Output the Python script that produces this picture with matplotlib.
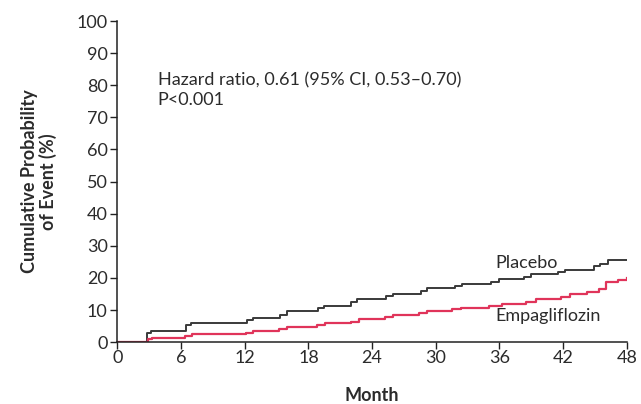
import matplotlib
matplotlib.use("Agg")
import matplotlib.pyplot as plt

# Kaplan-Meier style cumulative incidence (%), step function by month
placebo_months = [0, 2.8, 3.2, 6.5, 6.9, 12.2, 12.8, 15.3, 16.0, 18.9, 19.5, 22.0, 22.6,
                  25.3, 26.0, 28.6, 29.2, 31.8, 32.5, 35.2, 36.0, 38.3, 39.0, 41.5, 42.2,
                  44.9, 45.5, 46.2, 48]
placebo_pct = [0, 3.0, 3.4, 5.4, 6.0, 7.0, 7.6, 8.6, 9.6, 10.6, 11.4, 12.6, 13.4,
               14.4, 15.0, 16.0, 16.8, 17.4, 18.0, 18.8, 19.6, 20.4, 21.2, 22.0, 22.6,
               23.6, 24.4, 25.5, 25.5]

empa_months = [0, 2.9, 3.3, 6.4, 7.0, 12.1, 12.8, 15.2, 16.0, 18.8, 19.6, 22.0, 22.8,
               25.2, 26.0, 28.4, 29.2, 31.5, 32.4, 35.0, 36.2, 38.5, 39.4, 41.8, 42.6,
               44.2, 45.4, 46.0, 47.2, 48]
empa_pct = [0, 0.9, 1.3, 1.8, 2.5, 2.9, 3.5, 4.0, 4.8, 5.3, 6.0, 6.4, 7.2,
            7.7, 8.5, 9.0, 9.7, 10.2, 10.8, 11.3, 12.0, 12.6, 13.6, 14.2, 15.0,
            15.6, 16.6, 18.6, 19.5, 20.0]

x_ticks = [0, 6, 12, 18, 24, 30, 36, 42, 48]
y_ticks = [0, 10, 20, 30, 40, 50, 60, 70, 80, 90, 100]

FONT = ["Lato", "DejaVu Sans"]
TXT = "#2b2b2b"
FS = 13

fig = plt.figure(figsize=(6.41, 4.04), dpi=100)
ax = fig.add_axes([0.183, 0.153, 0.795, 0.795])

ax.step(placebo_months, placebo_pct, where="post", color="#3a3a3a", lw=1.4)
ax.step(empa_months, empa_pct, where="post", color="#e0345a", lw=1.6)

ax.set_xlim(0, 48)
ax.set_ylim(0, 100)
ax.set_xticks(x_ticks)
ax.set_yticks(y_ticks)
ax.set_xticklabels([str(v) for v in x_ticks], family=FONT, fontsize=FS, color=TXT)
ax.set_yticklabels([str(v) for v in y_ticks], family=FONT, fontsize=FS, color=TXT)
ax.tick_params(axis="both", direction="out", length=5, width=1, color="#222222", pad=2)
ax.tick_params(axis="x", pad=0.5)

for side in ("top", "right"):
    ax.spines[side].set_visible(False)
for side in ("left", "bottom"):
    ax.spines[side].set_color("#222222")
    ax.spines[side].set_linewidth(1.1)

ax.set_xlabel("Month", family=FONT, fontsize=FS, fontweight="bold", color=TXT, labelpad=15)
ax.set_ylabel("Cumulative Probability\nof Event (%)", family=FONT, fontsize=FS,
              fontweight="bold", color=TXT, labelpad=14, linespacing=1.05)

ax.text(3.8, 81.5, "Hazard ratio, 0.61 (95% CI, 0.53\u20130.70)", family=FONT,
        fontsize=FS, color=TXT, va="center", ha="left")
ax.text(3.8, 75.3, "P<0.001", family=FONT, fontsize=FS, color=TXT,
        va="center", ha="left")
ax.text(35.6, 24.8, "Placebo", family=FONT, fontsize=FS, color=TXT,
        va="center", ha="left")
ax.text(35.6, 8.0, "Empagliflozin", family=FONT, fontsize=FS, color=TXT,
        va="center", ha="left")

fig.savefig("out.png", dpi=100, facecolor="white")
